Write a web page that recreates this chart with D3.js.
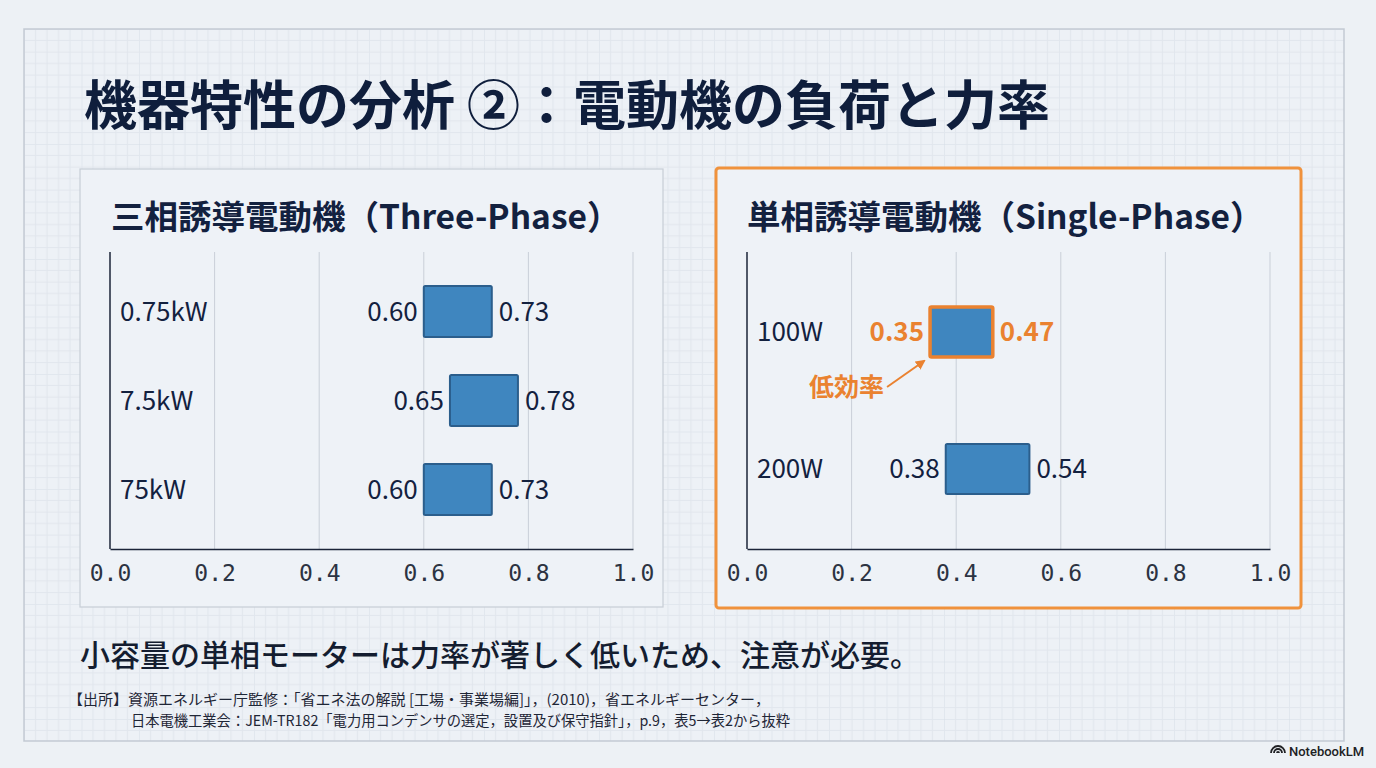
<!DOCTYPE html>
<html>
<head>
<meta charset="utf-8">
<script src="https://cdn.jsdelivr.net/npm/d3@7"></script>
<style>
  body { margin: 0; background: #edf1f5; }
  svg { display: block; font-family: "Noto Sans CJK JP", "Noto Sans", sans-serif; }
</style>
</head>
<body>
<div class="slide"></div>
<script>
// Data
const threeCats = ["0.75kW", "7.5kW", "75kW"];
const threeLow = [0.60, 0.65, 0.60];
const threeHigh = [0.73, 0.78, 0.73];

const singleCats = ["100W", "200W"];
const singleLow = [0.35, 0.38];
const singleHigh = [0.47, 0.54];

const xTicks = [0.0, 0.2, 0.4, 0.6, 0.8, 1.0];

const W = 1376, H = 768;
const navy = "#13213f";
const orange = "#ea8230";
const barFill = "#3f86bf";
const barStroke = "#2b5e8c";

const svg = d3.select(".slide")
  .append("svg")
  .attr("width", W)
  .attr("height", H);

// Grid paper background inside the frame
const defs = svg.append("defs");
const pat = defs.append("pattern")
  .attr("id", "grid")
  .attr("width", 57.5)
  .attr("height", 57.5)
  .attr("patternUnits", "userSpaceOnUse")
  .attr("x", 24).attr("y", 29);
pat.append("rect").attr("width", 57.5).attr("height", 57.5).attr("fill", "#edf1f6");
for (let i = 0; i < 5; i++) {
  pat.append("line").attr("x1", i * 11.5).attr("x2", i * 11.5).attr("y1", 0).attr("y2", 57.5)
    .attr("stroke", i === 0 ? "#d6dde6" : "#e1e6ed").attr("stroke-width", 1);
  pat.append("line").attr("y1", i * 11.5).attr("y2", i * 11.5).attr("x1", 0).attr("x2", 57.5)
    .attr("stroke", i === 0 ? "#d6dde6" : "#e1e6ed").attr("stroke-width", 1);
}

svg.append("rect")
  .attr("x", 24).attr("y", 29)
  .attr("width", 1320).attr("height", 712)
  .attr("fill", "url(#grid)")
  .attr("stroke", "#c3cad3")
  .attr("stroke-width", 1.5);

// Main title
svg.append("text")
  .attr("x", 84)
  .attr("y", 125)
  .attr("font-size", 53)
  .attr("font-weight", 700)
  .attr("fill", "#0f1e3c")
  .text("機器特性の分析 ②：電動機の負荷と力率");

// Draws one panel with its range-bar chart
function drawPanel(opts) {
  const panel = svg.append("g");

  panel.append("rect")
    .attr("x", opts.box[0]).attr("y", opts.box[1])
    .attr("width", opts.box[2]).attr("height", opts.box[3])
    .attr("rx", opts.highlight ? 3 : 0)
    .attr("fill", "#eef2f7")
    .attr("stroke", opts.highlight ? "#f0923c" : "#c7cdd6")
    .attr("stroke-width", opts.highlight ? 3 : 1.2);

  panel.append("text")
    .attr("x", opts.titleX)
    .attr("y", 229)
    .attr("font-size", 33.5)
    .attr("font-weight", 700)
    .attr("fill", navy)
    .text(opts.title);

  const x = d3.scaleLinear().domain([0, 1]).range([opts.left, opts.left + 523]);
  const y = d3.scalePoint().domain(opts.cats).range([252, 549]).padding(opts.pad);
  const barH = opts.barH;

  // vertical grid lines
  panel.append("g")
    .selectAll("line")
    .data(xTicks.slice(1))
    .join("line")
    .attr("x1", d => x(d)).attr("x2", d => x(d))
    .attr("y1", 252).attr("y2", 549)
    .attr("stroke", "#c9cfd8")
    .attr("stroke-width", 1);

  // axes
  const xAxis = panel.append("g")
    .attr("transform", `translate(0, 549)`)
    .call(d3.axisBottom(x).tickValues(xTicks).tickFormat(d3.format(".1f")).tickSize(0).tickPadding(16));
  xAxis.select(".domain").attr("stroke", "#1b2438").attr("stroke-width", 1.5);
  xAxis.selectAll("text")
    .attr("font-family", "'DejaVu Sans Mono', monospace")
    .attr("font-size", 23)
    .attr("fill", "#2c3342");

  panel.append("line")
    .attr("x1", x(0)).attr("x2", x(0))
    .attr("y1", 252).attr("y2", 549)
    .attr("stroke", "#1b2438")
    .attr("stroke-width", 1.5);

  // category labels
  panel.append("g")
    .selectAll("text")
    .data(opts.cats)
    .join("text")
    .attr("x", x(0) + opts.labelDx)
    .attr("y", d => y(d))
    .attr("dy", "0.35em")
    .attr("font-size", 26)
    .attr("fill", navy)
    .text(d => d);

  const rows = opts.cats.map((c, i) => ({ cat: c, lo: opts.low[i], hi: opts.high[i], i: i }));

  // bars
  panel.append("g")
    .selectAll("rect")
    .data(rows)
    .join("rect")
    .attr("x", d => x(d.lo))
    .attr("y", d => y(d.cat) - barH / 2)
    .attr("width", d => x(d.hi) - x(d.lo))
    .attr("height", barH)
    .attr("rx", 1.5)
    .attr("fill", barFill)
    .attr("stroke", d => (opts.hot === d.i ? orange : barStroke))
    .attr("stroke-width", d => (opts.hot === d.i ? 3.5 : 2));

  // value labels
  panel.append("g")
    .selectAll("text")
    .data(rows)
    .join("text")
    .attr("x", d => x(d.lo) - 6)
    .attr("y", d => y(d.cat))
    .attr("dy", "0.35em")
    .attr("text-anchor", "end")
    .attr("font-size", 26)
    .attr("font-weight", d => (opts.hot === d.i ? 700 : 400))
    .attr("fill", d => (opts.hot === d.i ? orange : navy))
    .text(d => d.lo.toFixed(2));

  panel.append("g")
    .selectAll("text")
    .data(rows)
    .join("text")
    .attr("x", d => x(d.hi) + 7)
    .attr("y", d => y(d.cat))
    .attr("dy", "0.35em")
    .attr("font-size", 26)
    .attr("font-weight", d => (opts.hot === d.i ? 700 : 400))
    .attr("fill", d => (opts.hot === d.i ? orange : navy))
    .text(d => d.hi.toFixed(2));

  return { x: x, y: y, barH: barH, panel: panel };
}

drawPanel({
  box: [80, 169, 583, 438],
  title: "三相誘導電動機（Three-Phase）",
  titleX: 111,
  left: 110,
  cats: threeCats, low: threeLow, high: threeHigh,
  pad: 0.668, barH: 51, labelDx: 10, hot: -1
});

const right = drawPanel({
  box: [716, 168, 585, 440],
  title: "単相誘導電動機（Single-Phase）",
  titleX: 747,
  left: 747,
  cats: singleCats, low: singleLow, high: singleHigh,
  pad: 0.584, barH: 50, labelDx: 10, hot: 0, highlight: true
});

// "low efficiency" annotation pointing at the 100W bar
const ax = right.x(singleLow[0]) - 6;
const ay = right.y(singleCats[0]) + right.barH / 2 + 4;
defs.append("marker")
  .attr("id", "arrow")
  .attr("viewBox", "0 0 10 10")
  .attr("refX", 8).attr("refY", 5)
  .attr("markerWidth", 5).attr("markerHeight", 5)
  .attr("orient", "auto")
  .append("path")
  .attr("d", "M0,0 L10,5 L0,10 z")
  .attr("fill", orange);

right.panel.append("line")
  .attr("x1", ax - 37).attr("y1", ay + 26)
  .attr("x2", ax).attr("y2", ay)
  .attr("stroke", orange)
  .attr("stroke-width", 2)
  .attr("marker-end", "url(#arrow)");

right.panel.append("text")
  .attr("x", ax - 40)
  .attr("y", ay + 35)
  .attr("text-anchor", "end")
  .attr("font-size", 25)
  .attr("font-weight", 700)
  .attr("fill", orange)
  .text("低効率");

// Takeaway line
svg.append("text")
  .attr("x", 80)
  .attr("y", 666)
  .attr("font-size", 30)
  .attr("font-weight", 500)
  .attr("fill", "#141d30")
  .text("小容量の単相モーターは力率が著しく低いため、注意が必要。");

// Source notes
const note = svg.append("g")
  .attr("font-size", 14.5)
  .attr("fill", "#1f2636");
note.append("text")
  .attr("x", 68).attr("y", 705)
  .attr("textLength", 702)
  .attr("lengthAdjust", "spacingAndGlyphs")
  .text("【出所】資源エネルギー庁監修：「省エネ法の解説 [工場・事業場編]」，(2010)，省エネルギーセンター，");
note.append("text")
  .attr("x", 131).attr("y", 726)
  .attr("textLength", 659)
  .attr("lengthAdjust", "spacingAndGlyphs")
  .text("日本電機工業会：JEM-TR182「電力用コンデンサの選定，設置及び保守指針」，p.9，表5→表2から抜粋");

// Branding
const brand = svg.append("g").attr("transform", "translate(1271, 752)");
brand.append("path")
  .attr("d", "M0,5 A7,7 0 0 1 14,5 M3,5 A4,4 0 0 1 11,5 M6,5 A1,1 0 0 1 8,5")
  .attr("fill", "none")
  .attr("stroke", "#202124")
  .attr("stroke-width", 1.8)
  .attr("transform", "translate(0,-4)");
brand.append("text")
  .attr("x", 18).attr("y", 4)
  .attr("font-family", "Roboto, 'Noto Sans', sans-serif")
  .attr("font-size", 13)
  .attr("font-weight", 500)
  .attr("fill", "#202124")
  .text("NotebookLM");
</script>
</body>
</html>
